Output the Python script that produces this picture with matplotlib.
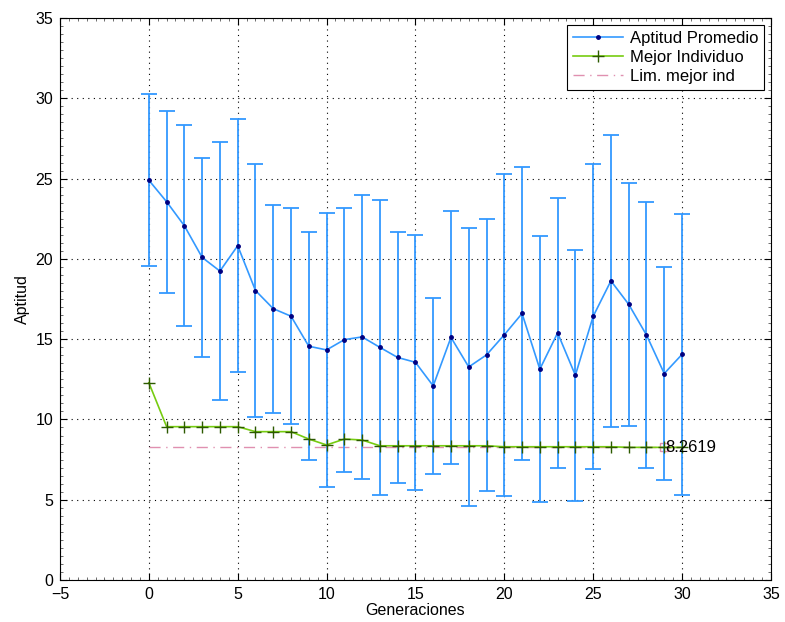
import numpy as np
import matplotlib.pyplot as plt
from matplotlib.lines import Line2D
from matplotlib.ticker import MultipleLocator

plt.switch_backend('Agg')
plt.rcParams['font.family'] = ['Liberation Sans', 'DejaVu Sans']

# Average fitness per generation with its standard deviation
generaciones = list(range(31))
aptitud_prom = [24.90, 23.56, 22.06, 20.09, 19.24, 20.82, 18.03, 16.90, 16.43, 14.56,
                14.33, 14.97, 15.14, 14.49, 13.86, 13.56, 12.09, 15.11, 13.27, 14.02,
                15.27, 16.60, 13.13, 15.39, 12.75, 16.42, 18.63, 17.17, 15.26, 12.86,
                14.05]
desv_std = [5.34, 5.68, 6.25, 6.19, 8.05, 7.87, 7.86, 6.47, 6.74, 7.09,
            8.54, 8.22, 8.85, 9.20, 7.82, 7.94, 5.49, 7.89, 8.64, 8.46,
            10.04, 9.15, 8.29, 8.42, 7.83, 9.49, 9.10, 7.56, 8.26, 6.66,
            8.76]
# Best individual per generation
mejor_ind = [12.29, 9.55, 9.55, 9.55, 9.55, 9.55, 9.24, 9.24, 9.24, 8.78,
             8.41, 8.78, 8.72, 8.36, 8.36, 8.36, 8.36, 8.36, 8.36, 8.36,
             8.30, 8.30, 8.30, 8.30, 8.30, 8.30, 8.30, 8.2619, 8.2619, 8.2619,
             8.2619]
lim_mejor = 8.2619

azul = '#3399ff'
verde = '#77cc11'
rosa = '#e090b0'

fig = plt.figure(figsize=(7.85, 6.22), dpi=100)
ax = fig.add_axes([0.0764, 0.0675, 0.9056, 0.9035])

ax.errorbar(generaciones, aptitud_prom, yerr=desv_std, color=azul, ecolor=azul,
            elinewidth=1.3, capsize=5.5, capthick=1.3, linewidth=1.2,
            marker='.', markersize=5, markerfacecolor='#000080',
            markeredgecolor='#000080', zorder=3)
ax.plot(generaciones, mejor_ind, color=verde, linewidth=1.2, marker='+',
        markersize=9, markeredgecolor='#2d5a00', markeredgewidth=1.0, zorder=4)
ax.plot([generaciones[0], generaciones[-1]], [lim_mejor, lim_mejor],
        color=rosa, linestyle=(0, (8, 4, 1, 4)), linewidth=1.0, zorder=2)
ax.plot([29], [lim_mejor], marker='s', markersize=6, markerfacecolor='none',
        markeredgecolor=rosa, zorder=2)
ax.text(29.05, lim_mejor, '%.4f' % lim_mejor, fontsize=12, va='center', ha='left', zorder=5)

ax.set_xlim(-5, 35)
ax.set_ylim(0, 35)
ax.xaxis.set_major_locator(MultipleLocator(5))
ax.yaxis.set_major_locator(MultipleLocator(5))
ax.xaxis.set_minor_locator(MultipleLocator(0.5))
ax.yaxis.set_minor_locator(MultipleLocator(0.5))
ax.tick_params(which='both', direction='in', top=True, right=True, labelsize=11.5)
ax.tick_params(which='major', length=5)
ax.tick_params(which='minor', length=2.5, color='#555555')
ax.tick_params(axis='x', pad=5)
ax.tick_params(axis='y', pad=5)
ax.grid(True, which='major', linestyle=(0, (1, 4)), color='black', linewidth=0.8)
ax.set_xticks(range(-5, 36, 5))
ax.set_xticklabels(['\u22125'] + [str(v) for v in range(0, 36, 5)])

ax.set_xlabel('Generaciones', fontsize=11.5, labelpad=1)
ax.set_ylabel('Aptitud', fontsize=11.5, labelpad=4)

handles = [
    Line2D([], [], color=azul, linewidth=1.2, marker='.', markersize=5,
           markerfacecolor='#000080', markeredgecolor='#000080'),
    Line2D([], [], color=verde, linewidth=1.2, marker='+', markersize=9,
           markeredgecolor='#2d5a00'),
    Line2D([], [], color=rosa, linewidth=1.0, linestyle=(0, (8, 4, 1, 4))),
]
labels = ['Aptitud Promedio', 'Mejor Individuo', 'Lim. mejor ind']
leg = ax.legend(handles, labels, loc='upper right', fontsize=12, fancybox=False,
                framealpha=1, edgecolor='black', borderpad=0.35, labelspacing=0.25,
                handlelength=3.0, handletextpad=0.4, borderaxespad=0.4)
leg.get_frame().set_linewidth(0.8)

fig.savefig('out.png', dpi=100)
